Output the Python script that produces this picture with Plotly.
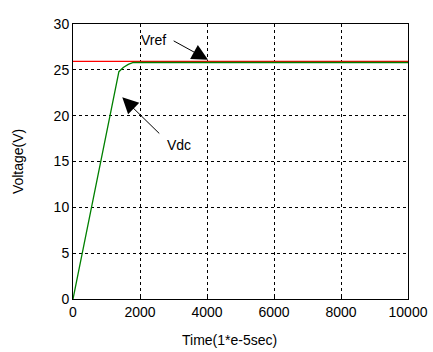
import plotly.graph_objects as go

vdc_t = [0, 1370, 1500, 1650, 1800, 10000]
vdc_v = [0, 24.8, 25.25, 25.6, 25.8, 25.8]
vref_t = [0, 10000]
vref_v = [25.93, 25.93]
x_ticks = [0, 2000, 4000, 6000, 8000, 10000]
y_ticks = [0, 5, 10, 15, 20, 25, 30]

font = "Liberation Sans"
fig = go.Figure()
fig.add_trace(go.Scatter(x=vref_t, y=vref_v, mode="lines",
                         line=dict(color="#ff0000", width=1.3), name="Vref"))
fig.add_trace(go.Scatter(x=vdc_t, y=vdc_v, mode="lines",
                         line=dict(color="#008000", width=1.3), name="Vdc"))

fig.add_annotation(x=4030, y=26.1, ax=2960, ay=28.25, axref="x", ayref="y",
                   text="", showarrow=True, arrowhead=2, arrowsize=3.2,
                   arrowwidth=1, arrowcolor="black")
fig.add_annotation(x=2390, y=28.25, text="Vref", showarrow=False,
                   font=dict(family=font, size=14, color="black"))
fig.add_annotation(x=1470, y=22.0, ax=2620, ay=17.9, axref="x", ayref="y",
                   text="", showarrow=True, arrowhead=2, arrowsize=3.2,
                   arrowwidth=1, arrowcolor="black")
fig.add_annotation(x=3150, y=16.8, text="Vdc", showarrow=False,
                   font=dict(family=font, size=14, color="black"))

fig.add_annotation(xref="paper", yref="paper", x=0.466, y=-0.149,
                   xanchor="center", yanchor="middle",
                   text="Time(1*e-5sec)", showarrow=False,
                   font=dict(family=font, size=14, color="black"))
fig.add_annotation(xref="paper", yref="paper", x=-0.164, y=0.498,
                   xanchor="center", yanchor="middle",
                   text="Voltage(V)", showarrow=False, textangle=-90,
                   font=dict(family=font, size=14, color="black"))

axis_common = dict(showline=True, linecolor="black", linewidth=1, mirror=True,
                   showgrid=True, gridcolor="black", griddash="3px,3px", gridwidth=1,
                   zeroline=False, ticks="inside", ticklen=3, tickcolor="black",
                   automargin=False,
                   tickfont=dict(family=font, size=14, color="black"))
fig.update_xaxes(range=[0, 10000], tickvals=x_ticks,
                 ticktext=[str(v) for v in x_ticks], **axis_common)
fig.update_yaxes(range=[0, 30], tickvals=y_ticks,
                 ticktext=[str(v) for v in y_ticks], **axis_common)
fig.update_layout(width=433, height=352, showlegend=False,
                  margin=dict(l=73, r=25, t=24, b=53),
                  paper_bgcolor="white", plot_bgcolor="white")
fig.write_html("out.html")
